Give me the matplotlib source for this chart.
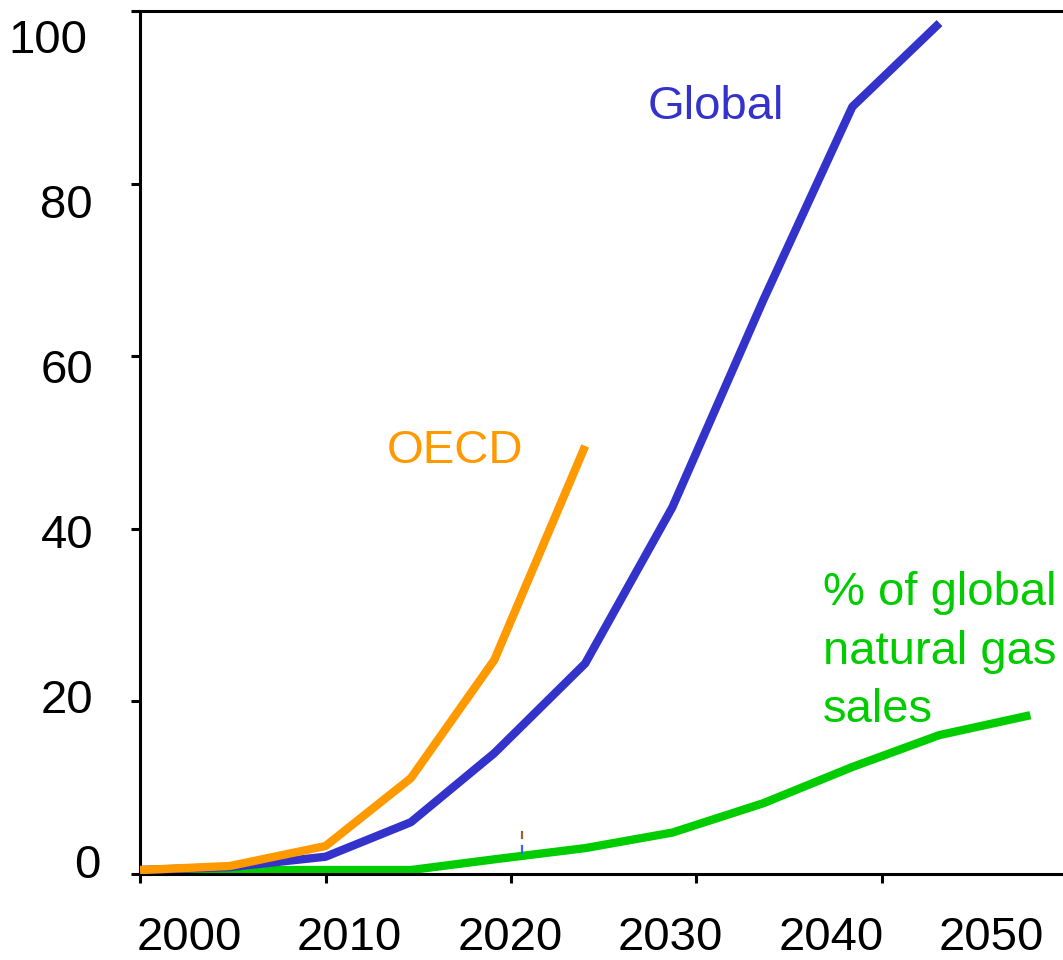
import matplotlib
matplotlib.use("Agg")
import matplotlib.pyplot as plt

plt.rcParams['font.family'] = ['Liberation Sans', 'DejaVu Sans']

# values (x in years, y in the chart's units)
years = [2000, 2004.85, 2010.0, 2014.6, 2019.1, 2024.0, 2028.7, 2033.6, 2038.4, 2043.1, 2048.0]
global_vals = [0.46, 0.8, 2.0, 6.0, 14.0, 24.4, 42.5, 66.5, 88.9, 98.6, None]
oecd_vals = [0.46, 0.93, 3.24, 11.1, 24.8, 49.6]
gas_share = [0.46, 0.46, 0.46, 0.46, 1.7, 3.0, 4.8, 8.2, 12.4, 16.1, 18.4]

x_ticks = [2000, 2010, 2020, 2030, 2040]
y_ticks = [0, 20, 40, 60, 80, 100]
x_labels = ["2000", "2010", "2020", "2030", "2040", "2050"]
y_labels = ["0", "20", "40", "60", "80", "100"]

# two small stray dashes in the source image
stub_year = 2020.6
stub_brown = [4.2, 4.9]
stub_blue = [2.4, 3.2]

BLUE = '#3333cc'
ORANGE = '#ff9900'
GREEN = '#00cc00'

W, H = 1063, 960
fig = plt.figure(figsize=(W / 100, H / 100), dpi=100)
ax = fig.add_axes([140 / W, 1 - 874 / H, 1 - 140 / W, (874 - 11) / H])


def fx(px):
    return px / W


def fy(py):
    return 1 - py / H


lw = 6.0
ax.plot(years, gas_share, color=GREEN, linewidth=lw, solid_capstyle='butt', zorder=2)
n_global = sum(v is not None for v in global_vals)
ax.plot(years[:n_global], global_vals[:n_global], color=BLUE, linewidth=lw,
        solid_capstyle='butt', zorder=3)
ax.plot(years[:len(oecd_vals)], oecd_vals, color=ORANGE, linewidth=lw,
        solid_capstyle='butt', zorder=4)

ax.plot([stub_year, stub_year], stub_brown, color='#996633', linewidth=1.6, zorder=5)
ax.plot([stub_year, stub_year], stub_blue, color='#3366ff', linewidth=1.6, zorder=5)

ax.set_xlim(2000, 2000 + (W - 140) / 18.55)
ax.set_ylim(0, 100)
ax.set_xticks(x_ticks)
ax.set_yticks(y_ticks)
ax.set_xticklabels([])
ax.set_yticklabels([])
ax.tick_params(direction='out', length=6.5, width=2.2, color='black')

for side in ['left', 'bottom', 'top']:
    ax.spines[side].set_linewidth(2.2)
    ax.spines[side].set_color('black')
ax.spines['right'].set_visible(False)

# axis labels drawn as a separate row, as in the reference
fs = 34
x_label_centers = [189, 349, 510, 670, 831, 991]
for lab, cx in zip(x_labels, x_label_centers):
    fig.text(fx(cx), fy(950), lab, fontsize=fs, ha='center', va='baseline')

y_label_right = [100, 93, 93, 93, 93, 87]
for i, (lab, rx) in enumerate(zip(y_labels, y_label_right)):
    fig.text(fx(rx), fy(878 - 165 * i), lab, fontsize=fs, ha='right', va='baseline')

fig.text(fx(648), fy(119), 'Global', color=BLUE, fontsize=fs, ha='left', va='baseline')
fig.text(fx(387), fy(463), 'OECD', color=ORANGE, fontsize=fs, ha='left', va='baseline')
# baseline alignment of a multi-line text goes by its last line
fig.text(fx(823), fy(722), '% of global\nnatural gas\nsales', color=GREEN, fontsize=fs,
         ha='left', va='baseline', linespacing=1.42)

fig.savefig('out.png', dpi=100)
